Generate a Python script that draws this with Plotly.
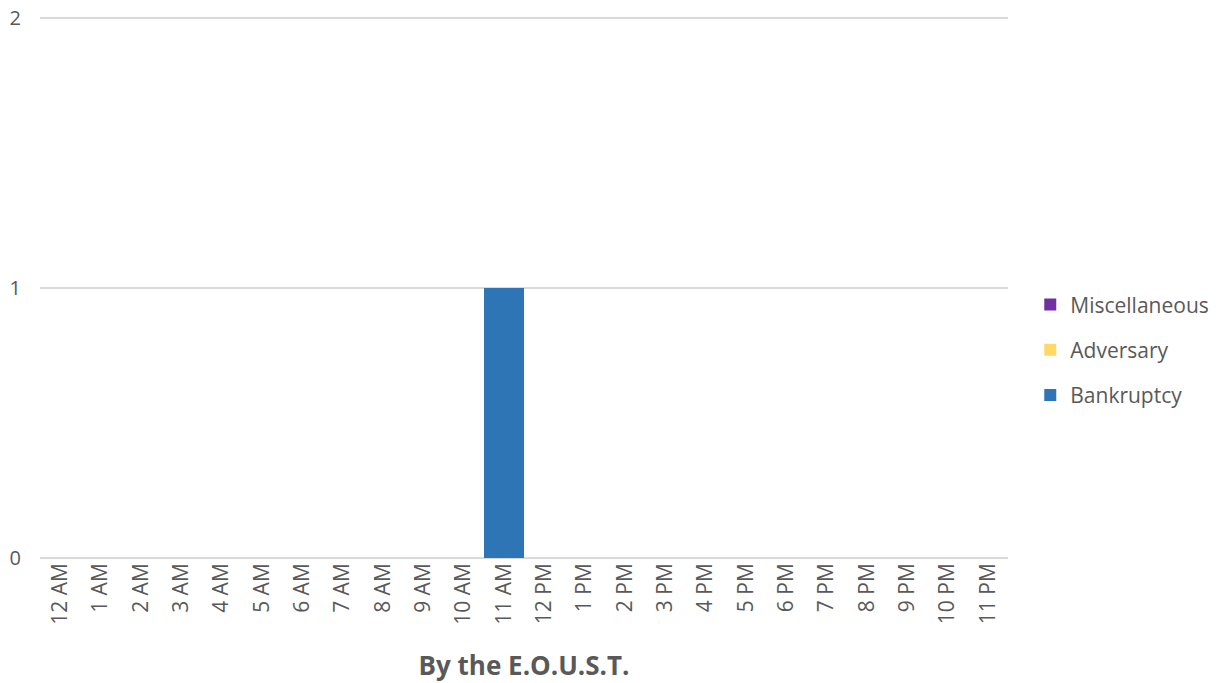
import plotly.graph_objects as go

hours = ["12 AM", "1 AM", "2 AM", "3 AM", "4 AM", "5 AM", "6 AM", "7 AM", "8 AM", "9 AM",
         "10 AM", "11 AM", "12 PM", "1 PM", "2 PM", "3 PM", "4 PM", "5 PM", "6 PM", "7 PM",
         "8 PM", "9 PM", "10 PM", "11 PM"]
bankruptcy = [0, 0, 0, 0, 0, 0, 0, 0, 0, 0, 0, 1, 0, 0, 0, 0, 0, 0, 0, 0, 0, 0, 0, 0]
adversary = [0] * 24
miscellaneous = [0] * 24

series = [("Bankruptcy", bankruptcy, "#2E75B6", 3),
          ("Adversary", adversary, "#FFD966", 2),
          ("Miscellaneous", miscellaneous, "#7030A0", 1)]

font_family = "'Open Sans', sans-serif"
grey = "#595959"

fig = go.Figure()
for name, vals, color, rank in series:
    fig.add_trace(go.Bar(x=hours, y=vals, name=name, marker_color=color,
                         marker_line_width=0, legendgroup=name, legendrank=rank))

fig.update_layout(
    barmode="stack",
    bargap=0,
    width=1219, height=683,
    paper_bgcolor="white", plot_bgcolor="white",
    margin=dict(l=40, r=211, t=16, b=125, autoexpand=False),
    font=dict(family=font_family, color=grey, size=19),
    legend=dict(x=1.023, y=0.384, xanchor="left", yanchor="middle",
                traceorder="grouped", tracegroupgap=15, itemwidth=30,
                font=dict(size=21, color=grey)),
    showlegend=True,
)
fig.update_xaxes(
    type="category", tickangle=-90, showgrid=False, showline=False, automargin=False,
    tickfont=dict(size=21, color=grey), ticks="",
    title=dict(text="<b>By the E.O.U.S.T.</b>", font=dict(size=26, color=grey), standoff=32),
)
fig.update_yaxes(
    range=[0, 2.008], tickvals=[0, 1, 2], showgrid=True, gridcolor="#D9D9D9", gridwidth=1.5,
    zeroline=True, zerolinecolor="#D9D9D9", zerolinewidth=1.5, automargin=False,
    tickfont=dict(size=20, color=grey), ticks="", ticklabelstandoff=18,
)

fig.write_html("out.html", config={"displayModeBar": False},
               post_script="document.body.style.margin='0';document.body.style.overflow='hidden';")
